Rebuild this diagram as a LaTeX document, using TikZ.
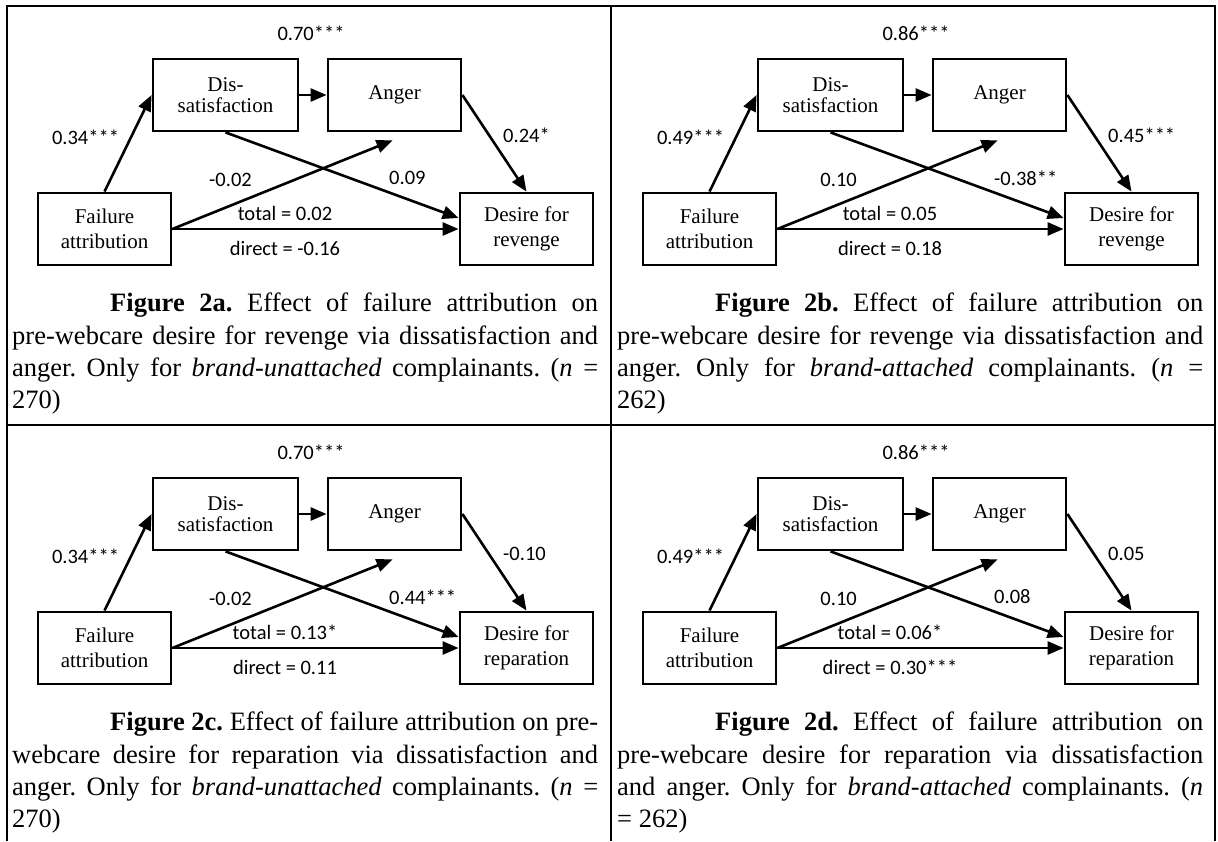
\documentclass[tikz,border=0pt]{standalone}
\usepackage{fontspec}
\setmainfont{Liberation Serif}
\newfontfamily\lblfont{Carlito}
\usetikzlibrary{arrows.meta}
\newcommand\mypanel[8]{%
  \node[box, minimum width=145pt, font=\fontsize{21}{21}\selectfont] (dis) at (225.5,95) {Dis-\\satisfaction};
  \node[box] (ang) at (394.5,95) {Anger};
  \node[box] (fail) at (104.5,229) {Failure\\attribution};
  \node[box] (des) at (526.5,229) {Desire for\\#8};
  \draw[arr] (fail.north) -- (dis.west);
  \draw[arr] (dis.east) -- (ang.west);
  \draw[arr] (ang.east) -- (des.north);
  \draw[arr] (dis.south) -- ([yshift=11pt]des.west);
  \draw[arr] (fail.east) -- ([xshift=-2pt,yshift=-8pt]ang.south);
  \draw[arr] (fail.east) -- (des.west);
  \node[lbl] (t1) at (311,33) {#1};
  \node[lbl] (t2) at (85.5,137) {#2};
  \node[lbl, anchor=west] (t3) at (503,135) {#3};
  \node[lbl, anchor=east] (t4) at (252,180) {#4};
  \node[lbl, anchor=west] (t5) at (389,178) {#5};
  \node[lbl] (t6) at (285,213) {total = #6};
  \node[lbl] (t7) at (285,248) {direct = #7};
}
\begin{document}
\begin{tikzpicture}[x=1pt,y=-1pt,
  box/.style={draw, line width=2.8pt, minimum width=133pt, minimum height=72pt, inner sep=0pt, align=center, font=\fontsize{21}{24.5}\selectfont},
  lbl/.style={inner sep=0pt, font=\lblfont\fontsize{20.5}{24}\selectfont},
  arr/.style={line width=2.6pt, -{Triangle[length=16pt,width=13pt]}},
  gridline/.style={line width=2.8pt},
  captext/.style={anchor=north west, inner sep=0pt, text width=586pt, align=justify, font=\fontsize{26.5}{32.3}\selectfont\frenchspacing}]
\useasboundingbox (0,0) rectangle (1218,841);
\draw[gridline] (7,841) -- (7,6) -- (1215,6) -- (1215,841);
\draw[gridline] (611,6) -- (611,841);
\draw[gridline] (7,425) -- (1215,425);

\begin{scope}[name prefix=a-]
  \mypanel{0.70***}{0.34***}{0.24*}{-0.02}{0.09}{0.02}{-0.16}{revenge}
  \node[captext] (cap) at (12,293) {\hspace*{98pt}\textbf{Figure 2a.} Effect of failure attribution on\linebreak pre-webcare desire for revenge via dissatisfaction and\linebreak anger. Only for \textit{brand-unattached} complainants. (\textit{n} =\linebreak 270)};
\end{scope}
\begin{scope}[shift={(605,0)}, name prefix=b-]
  \mypanel{0.86***}{0.49***}{0.45***}{0.10}{-0.38**}{0.05}{0.18}{revenge}
  \node[captext] (cap) at (12,293) {\hspace*{98pt}\textbf{Figure 2b.} Effect of failure attribution on\linebreak pre-webcare desire for revenge via dissatisfaction and\linebreak anger. Only for \textit{brand-attached} complainants. (\textit{n} =\linebreak 262)};
\end{scope}
\begin{scope}[shift={(0,419)}, name prefix=c-]
  \mypanel{0.70***}{0.34***}{-0.10}{-0.02}{0.44***}{0.13*}{0.11}{reparation}
  \node[captext] (cap) at (12,293) {\hspace*{98pt}\textbf{Figure 2c.} Effect of failure attribution on pre-\linebreak webcare desire for reparation via dissatisfaction and\linebreak anger. Only for \textit{brand-unattached} complainants. (\textit{n} =\linebreak 270)};
\end{scope}
\begin{scope}[shift={(605,419)}, name prefix=d-]
  \mypanel{0.86***}{0.49***}{0.05}{0.10}{0.08}{0.06*}{0.30***}{reparation}
  \node[captext] (cap) at (12,293) {\hspace*{98pt}\textbf{Figure 2d.} Effect of failure attribution on\linebreak pre-webcare desire for reparation via dissatisfaction\linebreak and anger. Only for \textit{brand-attached} complainants. (\textit{n}\linebreak = 262)};
\end{scope}
\end{tikzpicture}
\end{document}
